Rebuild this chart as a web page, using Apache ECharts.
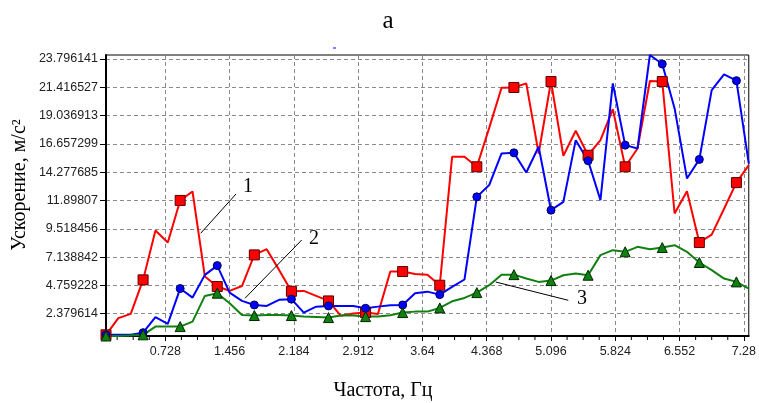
<!DOCTYPE html>
<html><head><meta charset="utf-8">
<script src="https://cdn.jsdelivr.net/npm/echarts@6/dist/echarts.min.js"></script>
<style>html,body{margin:0;padding:0;background:#fff}#c{width:759px;height:403px}</style>
</head><body><div id="c"></div>
<script>
// Frequency, Hz
const freq = [0.056, 0.196, 0.336, 0.476, 0.616, 0.756, 0.896, 1.036, 1.176, 1.316,
  1.456, 1.596, 1.736, 1.876, 2.016, 2.156, 2.296, 2.436, 2.576, 2.716,
  2.856, 2.996, 3.136, 3.276, 3.416, 3.556, 3.696, 3.836, 3.976, 4.116,
  4.256, 4.396, 4.536, 4.676, 4.816, 4.956, 5.096, 5.236, 5.376, 5.516,
  5.656, 5.796, 5.936, 6.076, 6.216, 6.356, 6.496, 6.636, 6.776, 6.916,
  7.056, 7.196, 7.336];
// Curve 1 (red, squares)
const curve1 = [0.6, 2.0, 2.36, 5.22, 9.37, 8.36, 11.9, 12.65, 5.5, 4.66,
  4.3, 4.7, 7.32, 7.8, 6.06, 4.26, 4.29, 3.87, 3.45, 2.2,
  2.4, 2.47, 2.36, 5.92, 5.92, 5.72, 5.66, 4.77, 15.57, 15.57,
  14.73, 18.0, 21.38, 21.4, 21.74, 15.85, 21.9, 15.66, 17.76, 15.7,
  16.97, 19.58, 14.73, 16.27, 21.94, 21.9, 10.8, 12.68, 8.36, 9.03,
  11.2, 13.4, 14.87];
// Curve 2 (blue, circles)
const curve2 = [0.6, 0.6, 0.6, 0.78, 2.08, 1.52, 4.49, 3.73, 5.64, 6.42,
  4.15, 3.45, 3.11, 3.03, 3.54, 3.6, 2.47, 2.97, 3.03, 3.03,
  3.03, 2.83, 2.97, 3.09, 3.11, 4.1, 4.23, 3.98, 4.63, 5.25,
  12.2, 13.19, 15.85, 15.9, 14.25, 16.41, 11.08, 11.78, 16.97, 15.24,
  11.93, 21.74, 16.55, 16.27, 24.13, 23.37, 19.64, 13.75, 15.35, 21.18,
  22.5, 21.97, 15.0];
// Curve 3 (green, triangles)
const curve3 = [0.5, 0.5, 0.55, 0.6, 1.29, 1.29, 1.29, 1.71, 3.87, 4.1,
  3.26, 2.27, 2.22, 2.27, 2.27, 2.22, 2.13, 2.1, 2.05, 2.22,
  2.22, 2.13, 2.13, 2.25, 2.47, 2.55, 2.55, 2.86, 3.42, 3.7,
  4.15, 4.77, 5.66, 5.66, 5.33, 5.05, 5.16, 5.61, 5.75, 5.61,
  7.3, 7.72, 7.58, 8.0, 7.8, 7.94, 8.14, 7.58, 6.68, 6.04,
  5.33, 5.05, 4.49];

const xTickLabels = ['0.728', '1.456', '2.184', '2.912', '3.64', '4.368', '5.096', '5.824', '6.552', '7.28'];
const xMinorTickLabels = ['0.182', '0.364', '0.546', '0.91', '1.092', '1.274', '1.638', '1.82', '2.002',
  '2.366', '2.548', '2.73', '3.094', '3.276', '3.458', '3.822', '4.004', '4.186', '4.55', '4.732', '4.914',
  '5.278', '5.46', '5.642', '6.006', '6.188', '6.37', '6.734', '6.916', '7.098'];
const yTickLabels = ['2.379614', '4.759228', '7.138842', '9.518456', '11.89807', '14.277685',
  '16.657299', '19.036913', '21.416527', '23.796141'];

const xMin = 0.056, xMax = 7.336;
const yMin = 0.5, yMax = 24.13;

const xTickValues = xTickLabels.map(Number);
const xMinorValues = xMinorTickLabels.map(Number);
const yTickValues = yTickLabels.map(Number);

function lookup(vals, labels, v) {
  let best = 0, d = Infinity;
  vals.forEach((t, i) => { const dd = Math.abs(t - v); if (dd < d) { d = dd; best = i; } });
  return labels[best];
}

const serif = '"Liberation Serif", "Times New Roman", serif';
const sans = '"Liberation Sans", Arial, sans-serif';

function mk(name, data, color, symbol, size, border) {
  return {
    type: 'line', name: name,
    data: freq.map((f, i) => [f, data[i]]),
    showAllSymbol: true,
    symbol: function (v, p) { return p.dataIndex % 3 === 0 ? symbol : 'none'; },
    symbolSize: size,
    lineStyle: { color: color, width: 2 },
    itemStyle: { color: color, borderColor: border, borderWidth: 1 },
    emphasis: { disabled: true },
    silent: true
  };
}

const chart = echarts.init(document.getElementById('c'));
const baseGraphic = [
  { type: 'text', x: 20, y: 185, rotation: Math.PI / 2,
    style: { text: 'Ускорение, м/с²', font: '20px ' + serif, fill: '#000', align: 'center', verticalAlign: 'middle' } },
  { type: 'text', x: 383, y: 391,
    style: { text: 'Частота, Гц', font: '20px ' + serif, fill: '#000', align: 'center', verticalAlign: 'middle' } },
  { type: 'line', shape: { x1: 236, y1: 194, x2: 200.7, y2: 233.3 }, style: { stroke: '#000', lineWidth: 1 }, z: 100 },
  { type: 'text', x: 248, y: 187, z: 100,
    style: { text: '1', font: '20px ' + serif, fill: '#000', align: 'center', verticalAlign: 'middle' } },
  { type: 'line', shape: { x1: 301.7, y1: 240, x2: 245, y2: 298.3 }, style: { stroke: '#000', lineWidth: 1 }, z: 100 },
  { type: 'text', x: 314, y: 239, z: 100,
    style: { text: '2', font: '20px ' + serif, fill: '#000', align: 'center', verticalAlign: 'middle' } },
  { type: 'line', shape: { x1: 495.7, y1: 282, x2: 568.3, y2: 300.3 }, style: { stroke: '#000', lineWidth: 1 }, z: 100 },
  { type: 'text', x: 582, y: 299, z: 100,
    style: { text: '3', font: '20px ' + serif, fill: '#000', align: 'center', verticalAlign: 'middle' } },
  { type: 'rect', shape: { x: 333, y: 47.5, width: 3, height: 1 }, style: { fill: '#0000ff' } }
];

chart.setOption({
  animation: false,
  backgroundColor: '#fff',
  title: {
    text: 'а', left: 383, top: 4, textAlign: 'center',
    textStyle: { fontFamily: serif, fontSize: 25, fontWeight: 'normal', color: '#000' }
  },
  grid: { left: 106, right: 4, top: 55, bottom: 67, show: true, borderColor: '#000', borderWidth: 1 },
  xAxis: {
    type: 'value', min: xMin, max: xMax, position: 'bottom',
    axisLine: { show: true, onZero: false, lineStyle: { color: '#000', width: 2 } },
    axisTick: { show: true, customValues: xTickValues, length: 5, lineStyle: { color: '#000' } },
    axisLabel: {
      customValues: xTickValues, margin: 9,
      formatter: v => lookup(xTickValues, xTickLabels, v),
      fontFamily: sans, fontSize: 12.5, color: '#222'
    },
    splitLine: { show: true, lineStyle: { color: '#8a8a8a', type: [4, 3], width: 1 } }
  },
  yAxis: {
    type: 'value', min: yMin, max: yMax,
    axisLine: { show: true, onZero: false, lineStyle: { color: '#000', width: 2 } },
    axisTick: { show: true, customValues: yTickValues, length: 6, lineStyle: { color: '#000' } },
    axisLabel: {
      customValues: yTickValues, margin: 8,
      formatter: v => lookup(yTickValues, yTickLabels, v),
      fontFamily: sans, fontSize: 12.5, color: '#222'
    },
    splitLine: { show: true, lineStyle: { color: '#8a8a8a', type: [4, 3], width: 1 } }
  },
  series: [
    mk('1', curve1, '#ff0000', 'rect', 10, '#5a0000'),
    mk('2', curve2, '#0000ff', 'circle', 8, '#000050'),
    mk('3', curve3, '#108010', 'triangle', 10, '#002800')
  ],
  graphic: baseGraphic
});

// minor ticks on the frequency axis, placed through the axis scale
const minorTicks = xMinorValues.map(v => {
  const p = chart.convertToPixel({ xAxisIndex: 0, yAxisIndex: 0 }, [v, yMin]);
  return { type: 'line', shape: { x1: p[0], y1: p[1] + 1, x2: p[0], y2: p[1] + 4 },
    style: { stroke: '#000', lineWidth: 1 }, z: 100 };
});
chart.setOption({ graphic: baseGraphic.concat(minorTicks) });
</script>
</body></html>
